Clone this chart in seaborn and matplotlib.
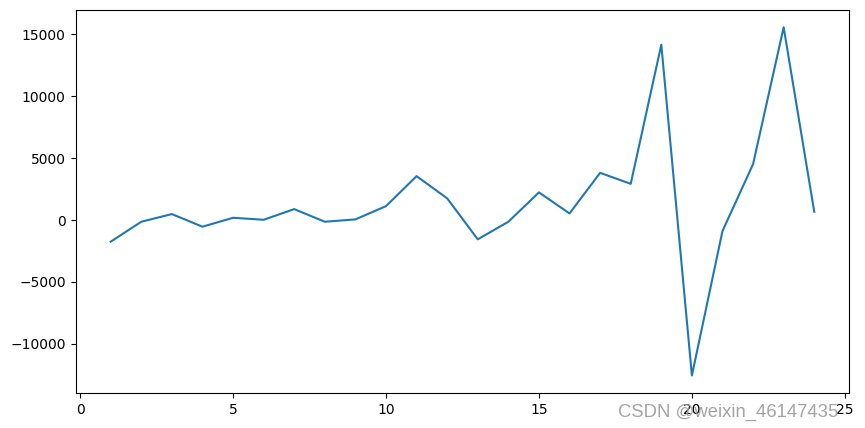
import matplotlib
matplotlib.use("Agg")
import pandas as pd
import matplotlib.pyplot as plt
import seaborn as sns

# month index and the differenced series
x_vals = list(range(1, 25))
y_vals = [-1750, -140, 480, -540, 180, 20, 880, -140, 50, 1120,
          3540, 1750, -1560, -140, 2230, 530, 3810, 2920, 14150, -12550,
          -890, 4510, 15560, 670]

df = pd.DataFrame({"x": x_vals, "y": y_vals})

fig = plt.figure(figsize=(8.65, 4.28), dpi=100)
ax = fig.add_axes([0.0873, 0.082, 0.8947, 0.895])
sns.lineplot(x="x", y="y", data=df, ax=ax, color="#1f77b4", linewidth=1.5)
ax.set_xlabel("")
ax.set_ylabel("")
ax.set_xticks([0, 5, 10, 15, 20, 25])

# watermark in the lower right corner, as in the source image
fig.text(0.714, 0.025, "CSDN @weixin_46147435", fontsize=13.3,
         family=["Liberation Sans", "DejaVu Sans"], color="#9a9a9a", alpha=0.9)

plt.savefig("out.png", dpi=100)
